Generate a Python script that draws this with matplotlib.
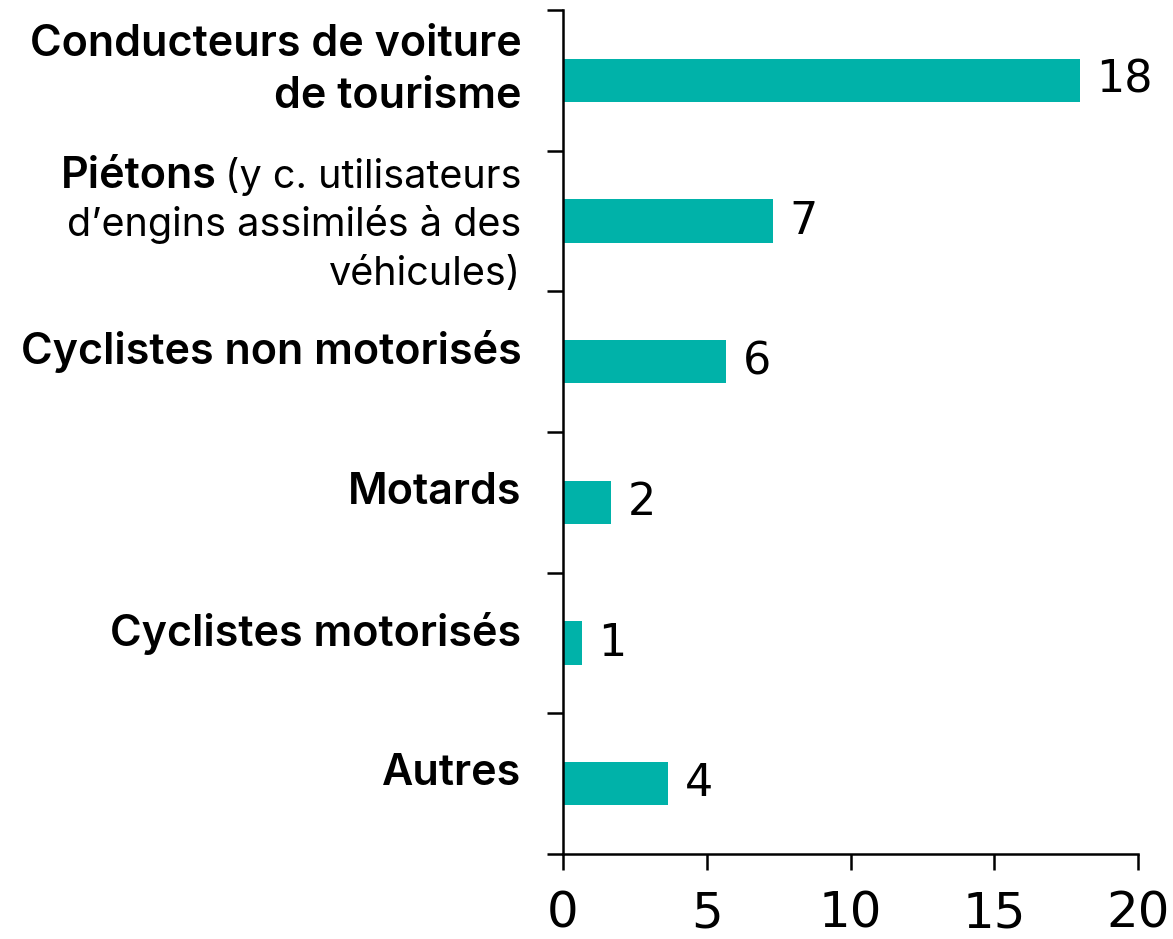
import numpy as np
import matplotlib
matplotlib.use("Agg")
import matplotlib.pyplot as plt

categories = ["Conducteurs de voiture\nde tourisme",
              "Piétons",
              "Cyclistes non motorisés",
              "Motards",
              "Cyclistes motorisés",
              "Autres"]
# bar lengths, labels as printed
values = [17.98, 7.3, 5.67, 1.66, 0.65, 3.66]
value_labels = ["18", "7", "6", "2", "1", "4"]
pieton_note = ["(y c. utilisateurs", "d\u2019engins assimilés à des", "véhicules)"]
xticks = [0, 5, 10, 15, 20]

teal = "#00B2A9"
label_font = "Inter"
num_font = "DejaVu Sans"

fig = plt.figure(figsize=(11.73, 9.39), dpi=100)
ax = fig.add_axes([563/1173, 1-854/939, 575/1173, 844/939])

y = np.arange(len(categories))
ax.barh(y, values, height=0.31, color=teal)
ax.set_xlim(0, 20)
ax.set_ylim(len(categories)-0.5, -0.5)

for s in ["top", "right"]:
    ax.spines[s].set_visible(False)
for s in ["left", "bottom"]:
    ax.spines[s].set_linewidth(1.8)

ax.set_yticks(np.arange(-0.5, len(categories), 1.0))
ax.set_yticklabels([])
ax.set_xticks(xticks)
ax.set_xticklabels([str(v) for v in xticks], fontsize=36, family=num_font)
ax.tick_params(axis="both", length=11.5, width=1.8, direction="out")
ax.tick_params(axis="x", pad=14)

for yi, v, lab in zip(y, values, value_labels):
    ax.annotate(lab, (v, yi), xytext=(12, 0), textcoords="offset points",
                ha="left", va="center", fontsize=32, family=num_font)

# category labels
for yi, cat in zip(y, categories):
    if cat == "Piétons":
        continue
    ax.annotate(cat, (0, yi), xycoords=("axes fraction", "data"),
                xytext=(-30, 7), textcoords="offset points",
                ha="right", va="center", fontsize=31, family=label_font,
                fontweight="semibold", linespacing=1.35)

# mixed label for Piétons
pi = categories.index("Piétons")
small = []
for k, line in enumerate(pieton_note):
    t = ax.annotate(line, (0, pi), xycoords=("axes fraction", "data"),
                    xytext=(-30, 24 - k*35), textcoords="offset points",
                    ha="right", va="baseline", fontsize=28.5, family=label_font)
    small.append(t)
fig.canvas.draw()
bb = small[0].get_window_extent(fig.canvas.get_renderer())
w = bb.width * 72 / fig.dpi
ax.annotate("Piétons", (0, pi), xycoords=("axes fraction", "data"),
            xytext=(-30 - w - 6, 24), textcoords="offset points",
            ha="right", va="baseline", fontsize=31, family=label_font,
            fontweight="semibold")

fig.savefig("out.png", dpi=100)
